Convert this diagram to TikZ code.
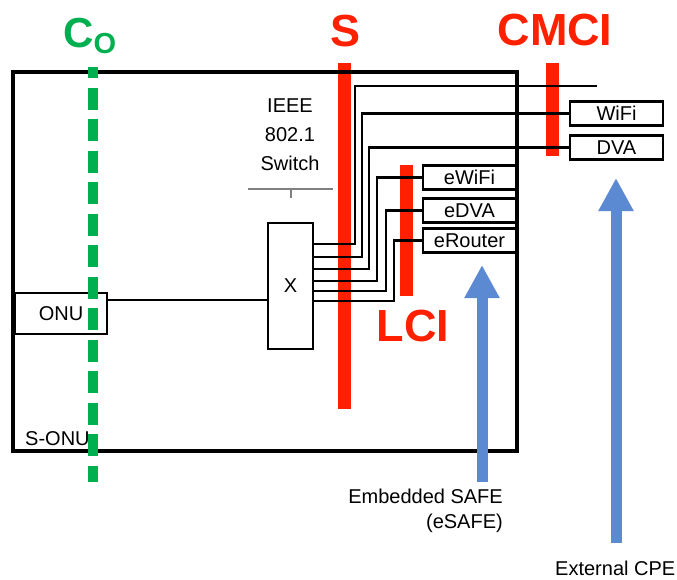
\documentclass[tikz,border=0pt]{standalone}
\usepackage{fontspec}
\setmainfont{Liberation Sans}
\usetikzlibrary{arrows.meta}
\definecolor{coGreen}{RGB}{0,176,80}
\definecolor{ifRed}{RGB}{255,32,0}
\definecolor{cpeBlue}{RGB}{91,137,210}
\tikzset{every node/.append style={font=\fontsize{20}{24}\selectfont, inner sep=0pt}}
\tikzset{
  ifbar/.style={line width=13pt, ifRed},
  iflabel/.style={ifRed, font=\fontsize{45}{45}\selectfont\bfseries},
  devbox/.style={draw, line width=2.4pt, minimum width=93pt, minimum height=24pt},
  link/.style={line width=2.7pt},
  bigarrow/.style={cpeBlue, line width=11pt, -{Triangle[width=33pt,length=33pt]}}
}

\begin{document}
\begin{tikzpicture}[x=1pt, y=-1pt]
    \useasboundingbox (0,0) rectangle (677,579);
    % interface bars
    \draw[ifbar] (344,63) -- (344,409);
    \draw[ifbar] (406,165) -- (406,296);
    \draw[ifbar] (552,63) -- (552,156);
    \node[iflabel, anchor=base] (slabel) at (346,46) {S};
    \node[iflabel, anchor=base] (lcilabel) at (413,341) {LCI};
    \node[iflabel, anchor=base] (cmcilabel) at (555,45) {CMCI};
    % S-ONU
    \draw[line width=3.8pt] (13,72) rectangle (517,451);
    \node[anchor=base west] (sonu) at (25,445) {S-ONU};
    \node[devbox, minimum width=92pt, minimum height=41pt] (onu) at (61,313.5) {ONU};
    \node[draw, line width=2.4pt, minimum width=45pt, minimum height=126pt] (xbox) at (290.5,286) {X};
    \node[align=center, anchor=north, font=\fontsize{20}{29}\selectfont] (switch) at (290,99) {IEEE\\802.1\\Switch};
    \draw[gray, line width=1.5pt] (248,189) -- (333,189) (291,189) -- (291,198);
    \node[devbox] (wifi) at (616.5,113.5) {WiFi};
    \node[devbox] (dva) at (616.5,147.5) {DVA};
    \node[devbox] (ewifi) at (469.5,177.5) {eWiFi};
    \node[devbox] (edva) at (469.5,210.5) {eDVA};
    \node[devbox] (erouter) at (469.5,240.5) {eRouter};
    \node (open) at (598,86) {};
    \draw[line width=1.4pt] (onu.east |- 0,300) -- (xbox.west |- 0,300);
    \foreach \y/\x/\dest in {244/355/open, 257/362/wifi, 269/369/dva, 281/377/ewifi, 291/386/edva, 301/394/erouter}
        \draw[link] (xbox.east |- 0,\y) -- (\x,\y) |- (\dest.west);
    % C_O
    \draw[coGreen, line width=10pt, dash pattern=on 22pt off 9.5pt, dash phase=11pt] (93,67) -- (93,482);
    \node[coGreen, anchor=base west, font=\fontsize{42}{42}\selectfont\bfseries] (colabel) at (63,47) {C\raisebox{-6pt}{\fontsize{29}{29}\selectfont O}};
    % eSAFE and CPE
    \draw[bigarrow] (482,482) -- (482,265);
    \node[anchor=base east] (esafe) at (503,503) {Embedded SAFE};
    \node[anchor=base east] (esafetag) at (503,528) {(eSAFE)};
    \draw[bigarrow] (616,543) -- (616,178);
    \node[anchor=base west] (extcpe) at (555,575) {External CPE};
\end{tikzpicture}
\end{document}
